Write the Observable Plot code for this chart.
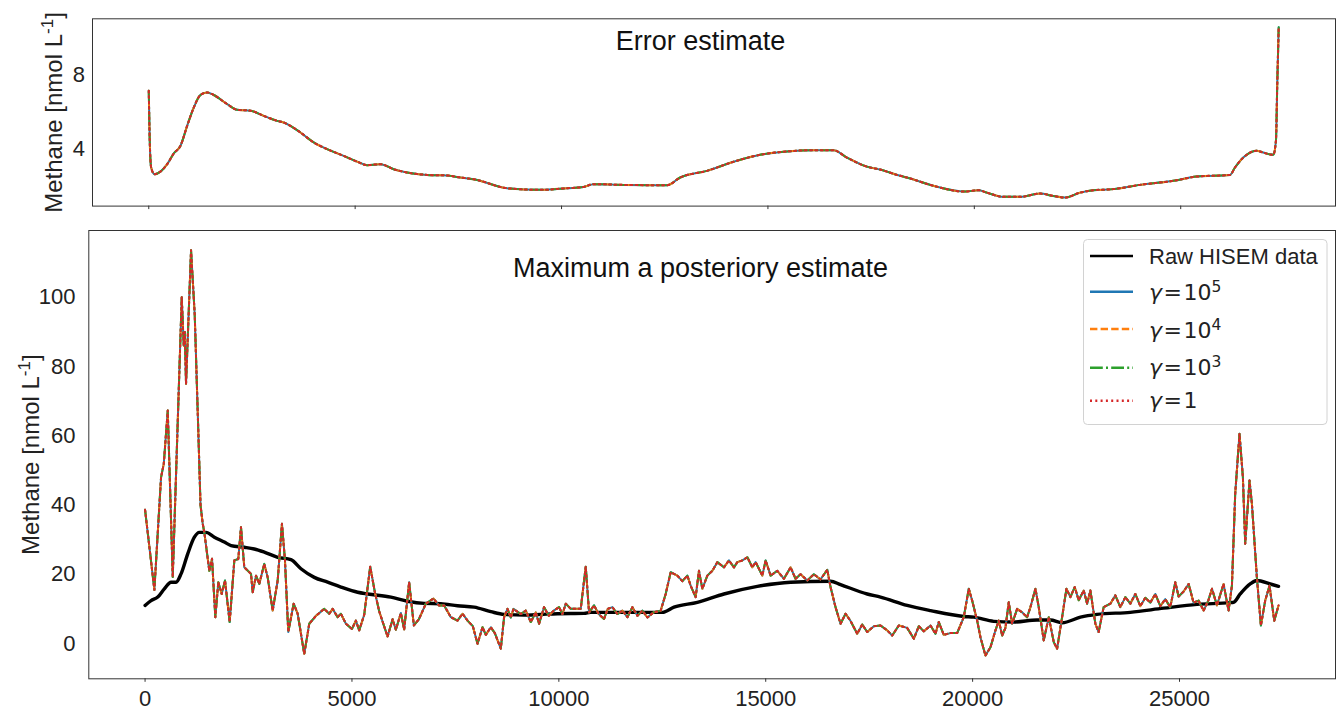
<!DOCTYPE html>
<html><head><meta charset="utf-8">
<script src="https://cdn.jsdelivr.net/npm/d3@7"></script>
<script src="https://cdn.jsdelivr.net/npm/@observablehq/plot@0.6"></script>
<style>
body{margin:0;background:#fff;}
#wrap{position:relative;width:1338px;height:711px;overflow:hidden;font-family:"Liberation Sans",Arial,sans-serif;background:#fff;}
#wrap > svg{display:block;}
#legend{position:absolute;left:1083px;top:239px;}
</style></head><body><div id="wrap"></div>
<script>
// ---- data ----
const xTicks = [0, 5000, 10000, 15000, 20000, 25000];
const topYTicks = [4, 8];
const bottomYTicks = [0, 20, 40, 60, 80, 100];

const errX = [0,24,58,138,283,446,605,768,930,1090,1252,1414,1574,1899,2141,2463,2785,3109,3269,3432,3674,3996,4320,4722,5047,5289,5611,5933,6257,6742,7226,7548,7870,8679,9485,10132,10534,10776,11503,12553,12876,13522,14166,14813,15459,16103,16588,16912,17396,17718,18203,18365,19009,19777,20099,20302,20704,21108,21593,21915,22198,22561,22884,23368,24014,24821,25387,26194,26315,26516,26840,27000,27242,27307,27339,27374];
const errY = [7.13,4.42,2.97,2.61,2.75,3.15,3.73,4.15,5.23,6.22,6.9,7.04,6.9,6.41,6.1,6.05,5.77,5.5,5.41,5.23,4.87,4.33,3.97,3.6,3.29,3.1,3.15,2.88,2.7,2.57,2.54,2.43,2.34,1.85,1.76,1.85,1.92,2.07,2.03,2.01,2.43,2.79,3.28,3.66,3.84,3.91,3.91,3.51,3.02,2.86,2.52,2.43,1.98,1.67,1.74,1.61,1.38,1.38,1.56,1.43,1.34,1.61,1.74,1.8,2.03,2.25,2.48,2.57,2.97,3.51,3.88,3.78,3.66,4.42,7.49,10.57];

const mapX = [0,225,386,452,548,669,886,935,960,990,1111,1200,1290,1340,1393,1432,1553,1618,1698,1770,1852,1932,2045,2157,2253,2318,2398,2560,2601,2681,2760,2881,2963,3084,3205,3308,3381,3461,3591,3688,3847,3968,4130,4330,4451,4533,4654,4733,4854,4999,5095,5175,5296,5441,5554,5658,5861,5982,6061,6182,6262,6382,6496,6617,6786,6972,7100,7228,7390,7551,7672,7793,7921,8035,8155,8235,8356,8453,8597,8677,8759,8839,8904,9080,9201,9322,9442,9522,9643,9757,9877,10005,10087,10167,10288,10529,10650,10730,10851,10964,11092,11182,11295,11416,11537,11657,11778,11899,12019,12140,12292,12461,12582,12703,12864,12985,13106,13186,13306,13386,13468,13589,13710,13830,13990,14111,14232,14314,14435,14556,14676,14756,14918,14997,15118,15280,15439,15601,15721,15842,16004,16163,16324,16487,16566,16687,16808,16929,17050,17211,17332,17453,17613,17774,17936,18057,18216,18419,18580,18700,18821,18982,19102,19182,19303,19464,19626,19786,19907,19989,20110,20189,20310,20431,20552,20632,20714,20793,20873,20955,21076,21196,21317,21397,21518,21598,21719,21840,21961,22042,22163,22267,22363,22467,22564,22685,22767,22846,22967,23046,23167,23329,23449,23570,23691,23811,23932,24053,24174,24294,24415,24536,24656,24777,24898,24978,25099,25220,25340,25461,25582,25696,25785,25905,26065,26186,26267,26346,26450,26532,26588,26692,26750,26870,26967,27071,27175,27290,27393];
const mapY = [38.6,15.5,48,51.9,67.3,19.2,100,86,90,75,113.6,95,60,40,34.6,32.1,21,24.5,7.6,17.7,14.3,18.2,6.2,24,24.4,33.6,22,20.1,14.8,19.6,17.2,23,19.1,9.5,18.2,34.6,24,3.3,11.5,8.6,-3,5.7,8,10,8.6,10,7.6,8.6,5.7,4.2,6.6,3.8,8.3,22.2,14.8,9.3,2,7,4,8.8,4,17.7,5.2,7,11.5,13,11,11,7.6,6.6,8.6,6.6,5,-0.1,4.7,2.5,4.7,3,-1.5,7.6,10,7.5,10,8.5,9.5,6.2,9,5.7,10.5,8,9.5,10.5,8.5,11.5,10,10,22.2,9,11,8.5,7.1,10,10.5,8.5,9.5,7.6,10.5,8,9.5,7.5,9,9.5,14.3,20.6,19.6,18,19.6,16.7,13.4,21,15.8,19.6,21,23.5,22,24,22,23.5,24,24.9,22,23.5,19.6,24,19.6,21,18.7,22,18.7,20,18.2,20,18.5,21.3,16.3,10.5,5.7,8.6,6.5,2.8,5.5,3.3,5,5.2,3.8,2.3,5.2,4.5,1.4,5,3.5,5.2,2.8,6.2,2.5,3,3,7.6,15.8,12.4,6.6,1.8,-3.5,-1.1,3.8,6.6,2.3,4.5,11.9,5.7,10,9,7.6,10.5,15.8,10.5,0.9,7.6,0.4,-1.5,7.6,15.8,13.4,16.3,12.5,15.3,11.5,15.3,5.7,3.3,10.5,11.5,13.9,10.5,13.4,11.5,14.3,10.8,13.2,11.8,14.3,10.8,12.8,10.5,17.7,13.6,15,17.2,11.8,12.4,9.5,12.4,15.8,11,17.2,9.5,16.7,43.2,60.6,48,28.8,47.1,40.3,19.1,5.2,12.4,16.7,6.6,11];

const rawX = [0,145,307,466,628,749,869,1031,1191,1311,1473,1674,1915,2077,2398,2640,2881,3205,3526,3767,4089,4412,4733,5137,5378,5941,6344,6745,7148,7551,7953,8356,8677,9160,9563,9966,10609,10770,11978,12502,12783,13348,13990,14797,15601,16566,16808,17453,17774,18419,18982,19786,20028,20511,20994,21557,21879,22163,22605,23007,23811,24616,25422,26226,26306,26467,26708,26870,27193,27393];
const rawY = [11,12.4,13.4,15.8,17.7,17.7,20.1,25.9,30.7,32.1,32.1,30.7,29.3,28.3,27.8,27.3,26.4,24.9,24.2,21.6,19.1,17.7,16.3,14.8,14.3,13.4,12.2,11.6,11.5,10.9,10.5,9.2,8.4,8.2,8.4,8.6,8.7,9,9,9,10.5,11.9,14.3,16.5,17.7,18,17,14.3,13.4,11,9.5,7.8,7.6,6.4,6.2,6.8,6.8,6,7.6,8.4,9,10.2,11.3,11.8,11.9,14.3,17.2,18.2,17.2,16.5];

const seriesLabels = ["Raw HISEM data", "γ=10", "γ=10", "γ=10", "γ=1"];
const seriesExps = [null, "5", "4", "3", null];
const seriesColors = ["#000000", "#1f77b4", "#ff7f0e", "#2ca02c", "#d62728"];
const seriesDash = [null, null, "7.4,3.2", "12.8,3.2,2,3.2", "2,3.3"];
const yLabelText = "Methane [nmol L-1]";

// ---- build ----
const errData = errX.map((x, i) => ({x, y: errY[i]}));
const mapData = mapX.map((x, i) => ({x, y: mapY[i]}));
const rawData = rawX.map((x, i) => ({x, y: rawY[i]}));

const fontFam = "'Liberation Sans', Arial, sans-serif";
const baseStyle = {fontFamily: fontFam, fontSize: "22px", color: "#222", background: "transparent", overflow: "visible"};

function gammaLines(data, curve) {
  return [1, 2, 3, 4].map(k => Plot.line(data, {x: "x", y: "y", stroke: seriesColors[k], strokeWidth: 2, strokeDasharray: seriesDash[k] || undefined, curve}));
}

const topChart = Plot.plot({
  width: 1338, height: 222,
  marginTop: 18.3, marginBottom: 16.4, marginLeft: 92, marginRight: 3,
  style: baseStyle,
  x: {domain: [-1363, 28750]},
  y: {domain: [0.88, 11.03]},
  marks: [
    Plot.axisX({ticks: xTicks, tickSize: 3.5, tickFormat: () => "", label: null, stroke: "#333"}),
    Plot.axisY({ticks: topYTicks, tickSize: 0, tickPadding: 7.5, label: null, fontSize: 22, fill: "#222"}),
    ...gammaLines(errData, "monotone-x"),
    Plot.frame({stroke: "#333", strokeWidth: 1}),
    Plot.text(["Error estimate"], {text: d => d, frameAnchor: "top", dx: -13.5, dy: 31.2, lineAnchor: "bottom", fontSize: 27, fill: "#111"}),
    Plot.text([yLabelText], {text: d => d, frameAnchor: "left", dx: -30.3, rotate: -90, lineAnchor: "bottom", textAnchor: "middle", fontSize: 24, fill: "#222"})
  ]
});

const bottomChart = Plot.plot({
  width: 1338, height: 489,
  marginTop: 8, marginBottom: 32.7, marginLeft: 88.3, marginRight: 3,
  style: baseStyle,
  x: {domain: [-1360, 28770]},
  y: {domain: [-10.2, 119.3]},
  marks: [
    Plot.axisX({ticks: xTicks, tickSize: 3.5, tickPadding: 8.3, tickFormat: d => String(d), label: null, fontSize: 22, stroke: "#333", fill: "#222"}),
    Plot.axisY({ticks: bottomYTicks, tickSize: 0, tickPadding: 13.3, label: null, fontSize: 22, fill: "#222"}),
    Plot.line(rawData, {x: "x", y: "y", stroke: seriesColors[0], strokeWidth: 3.4, curve: "monotone-x"}),
    ...gammaLines(mapData, "linear"),
    Plot.frame({stroke: "#333", strokeWidth: 1}),
    Plot.text(["Maximum a posteriory estimate"], {text: d => d, frameAnchor: "top", dx: -11.65, dy: 46, lineAnchor: "bottom", fontSize: 27, fill: "#111"}),
    Plot.text([yLabelText], {text: d => d, frameAnchor: "left", dx: -50, rotate: -90, lineAnchor: "bottom", textAnchor: "middle", fontSize: 24, fill: "#222"})
  ]
});

function fixLabel(svg) {
  d3.select(svg).selectAll("text").filter(function() { return this.textContent === yLabelText; }).each(function() {
    const t = d3.select(this);
    t.text(null);
    t.append("tspan").text("Methane [nmol L");
    t.append("tspan").attr("dy", -9).attr("font-size", 17).text("-1");
    t.append("tspan").attr("dy", 9).text("]");
  });
}
fixLabel(topChart);
fixLabel(bottomChart);

const wrap = document.getElementById("wrap");
wrap.appendChild(topChart);
wrap.appendChild(bottomChart);

// legend
const lg = d3.select(wrap).append("svg").attr("id", "legend").attr("width", 245).attr("height", 187);
lg.append("rect").attr("x", 0.5).attr("y", 0.5).attr("width", 243.5).attr("height", 185).attr("rx", 4)
  .attr("fill", "rgba(255,255,255,0.85)").attr("stroke", "#d2d2d2").attr("stroke-width", 1);
const lineYs = [17, 52.7, 90, 128.7, 161.7];
const textYs = [25, 61, 98.7, 136, 169.3];
seriesLabels.forEach((lab, i) => {
  lg.append("line").attr("x1", 7).attr("x2", 50).attr("y1", lineYs[i]).attr("y2", lineYs[i])
    .attr("stroke", seriesColors[i]).attr("stroke-width", 2.5)
    .attr("stroke-dasharray", seriesDash[i]);
  const t = lg.append("text").attr("x", 66).attr("y", textYs[i]).attr("fill", "#222").attr("font-size", 22);
  if (i === 0) {
    t.attr("font-family", fontFam).text(lab);
  } else {
    t.attr("font-family", "'DejaVu Sans', sans-serif");
    t.append("tspan").attr("font-style", "italic").text("γ");
    t.append("tspan").attr("dx", 1.5).text(lab.slice(1, 2));
    t.append("tspan").attr("dx", 1.5).text(lab.slice(2));
    if (seriesExps[i]) t.append("tspan").attr("dy", -8).attr("font-size", 15.5).text(seriesExps[i]);
  }
});
</script>
</body></html>
